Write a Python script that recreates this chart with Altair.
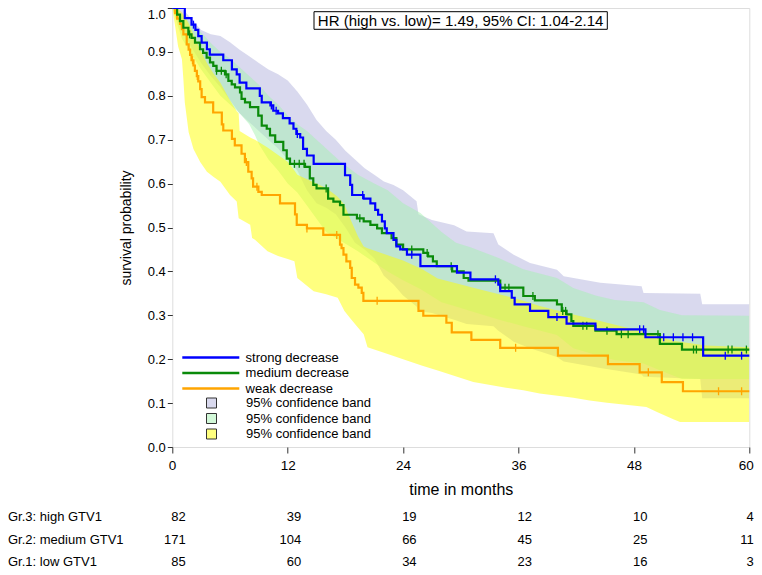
import altair as alt
import pandas as pd

SANS = "Liberation Sans, Arial, sans-serif"

GROUPS = ["strong decrease", "medium decrease", "weak decrease"]
LINE_COLORS = ["#0000ff", "#0a8a0a", "#ffa500"]
BAND_KEYS = ["band_strong", "band_medium", "band_weak"]
BAND_COLORS = ["rgba(179,179,221,0.5)", "rgba(165,241,178,0.5)", "rgba(255,255,0,0.5)"]

# Kaplan-Meier step curves (time in months, survival probability)
STRONG_T = [0, 1.3, 2.0, 2.4, 2.7, 3.05, 3.6, 3.9, 5.3, 6.2, 6.7, 7.0, 7.7, 9.1, 9.3, 10.2, 10.5, 11.0, 11.5, 12.2,
            12.6, 12.9, 13.3, 13.6, 14.0, 14.7, 17.96, 18.5, 18.7, 19.9, 20.6, 21.1, 21.4, 21.8, 22.1, 22.3, 23.0, 23.3,
            23.7, 24.4, 25.8, 29.6, 31.0, 33.9, 34.1, 35.3, 35.6, 37.2, 39.1, 41.0, 44.0, 49.2, 55.2, 60]
STRONG_S = [1.0, 0.977, 0.962, 0.950, 0.936, 0.921, 0.906, 0.894, 0.881, 0.860, 0.849, 0.830, 0.817, 0.800, 0.785,
            0.778, 0.766, 0.760, 0.749, 0.737, 0.725, 0.713, 0.705, 0.679, 0.664, 0.645, 0.619, 0.597, 0.574, 0.566,
            0.555, 0.540, 0.529, 0.514, 0.498, 0.487, 0.472, 0.457, 0.450, 0.438, 0.412, 0.397, 0.382, 0.370, 0.355,
            0.340, 0.325, 0.310, 0.296, 0.281, 0.268, 0.250, 0.208, 0.208]
STRONG_CENSOR = [2.2, 10.3, 10.8, 13.0, 19.8, 24.9, 33.6, 40.0, 48.6, 49.0, 51.1, 52.1, 53.1, 54.1, 57.5, 59.2]

MEDIUM_T = [0, 0.5, 0.8, 1.15, 1.67, 2.0, 2.36, 2.88, 3.2, 3.57, 3.92, 4.26, 4.6, 5.48, 5.83, 6.18, 6.52, 7.04, 7.2,
            7.56, 8.08, 8.94, 9.3, 9.82, 10.16, 10.7, 11.54, 11.9, 12.24, 13.8, 14.3, 14.66, 15.0, 16.2, 16.75, 17.44,
            17.8, 19.2, 19.9, 20.6, 21.3, 21.8, 22.8, 23.3, 24.0, 26.1, 26.6, 27.1, 27.5, 29.1, 30.3, 30.8, 34.1, 36.5,
            37.7, 40.0, 40.5, 41.0, 41.5, 41.7, 44.0, 46.2, 50.7, 53.0, 60]
MEDIUM_S = [1.0, 0.985, 0.970, 0.955, 0.940, 0.932, 0.921, 0.906, 0.898, 0.887, 0.876, 0.868, 0.857, 0.849, 0.834,
            0.826, 0.819, 0.808, 0.793, 0.785, 0.774, 0.755, 0.732, 0.725, 0.710, 0.695, 0.676, 0.657, 0.645, 0.638,
            0.612, 0.597, 0.589, 0.566, 0.559, 0.551, 0.529, 0.521, 0.514, 0.506, 0.498, 0.487, 0.476, 0.461, 0.450,
            0.442, 0.434, 0.423, 0.412, 0.400, 0.385, 0.379, 0.363, 0.344, 0.334, 0.325, 0.310, 0.302, 0.287, 0.276,
            0.265, 0.257, 0.235, 0.222, 0.222]
MEDIUM_CENSOR = [1.8, 4.6, 5.1, 5.6, 12.7, 13.2, 13.7, 16.0, 19.5, 24.9, 26.5, 29.0, 34.6, 35.0, 37.5, 40.6, 40.9,
                 42.7, 43.1, 45.2, 46.7, 47.4, 50.5, 54.2, 54.5, 57.8, 58.2, 59.7]

WEAK_T = [0, 0.3, 0.5, 0.8, 1.0, 1.15, 1.5, 1.7, 1.85, 2.0, 2.2, 2.35, 2.55, 2.7, 2.9, 3.05, 3.4, 4.25, 5.15, 5.3,
          6.2, 6.5, 7.2, 7.55, 7.9, 8.25, 8.4, 8.95, 9.3, 11.2, 12.76, 12.94, 14.0, 15.7, 17.44, 17.6, 17.8, 18.1,
          18.5, 18.66, 19.0, 19.35, 19.7, 19.87, 25.6, 26.1, 28.5, 29.06, 31.1, 34.1, 40.1, 45.3, 48.6, 50.9, 53.1, 60]
WEAK_S = [1.0, 0.988, 0.976, 0.964, 0.952, 0.940, 0.917, 0.905, 0.893, 0.881, 0.869, 0.857, 0.845, 0.833, 0.815,
          0.797, 0.785, 0.762, 0.735, 0.721, 0.702, 0.687, 0.668, 0.649, 0.627, 0.612, 0.593, 0.581, 0.574, 0.555,
          0.530, 0.506, 0.498, 0.483, 0.461, 0.453, 0.438, 0.423, 0.408, 0.385, 0.370, 0.363, 0.351, 0.333, 0.310,
          0.299, 0.283, 0.261, 0.244, 0.226, 0.208, 0.189, 0.170, 0.148, 0.127, 0.127]
WEAK_CENSOR = [0.45, 2.1, 2.6, 7.7, 8.8, 14.0, 17.1, 21.3, 35.7, 49.5, 56.8, 59.2]

# 95% confidence bands
BAND_STRONG_T = [0, 1, 2, 3, 4, 5, 6, 7, 8, 9, 10, 11, 12, 13, 14, 15, 16, 17, 18, 19, 20, 21, 22, 23, 24,
                 25.4, 25.6, 27, 29.3, 30.6, 33.4, 33.9, 35.5, 37.2, 40.0, 40.7, 44.5, 48.8, 49.0, 54.9, 55.1, 60]
BAND_STRONG_HI = [1.0, 1.0, 0.975, 0.95, 0.94, 0.936, 0.922, 0.905, 0.89, 0.875, 0.86, 0.849, 0.835, 0.81, 0.78,
                  0.745, 0.72, 0.70, 0.675, 0.655, 0.635, 0.62, 0.605, 0.597, 0.585, 0.56, 0.53, 0.517, 0.505, 0.491,
                  0.487, 0.461, 0.438, 0.419, 0.404, 0.389, 0.374, 0.366, 0.351, 0.349, 0.325, 0.325]
BAND_STRONG_LO = [1.0, 0.95, 0.91, 0.875, 0.845, 0.82, 0.79, 0.76, 0.74, 0.72, 0.70, 0.68, 0.655, 0.63, 0.585,
                  0.555, 0.545, 0.53, 0.50, 0.465, 0.45, 0.43, 0.39, 0.37, 0.345, 0.32, 0.31, 0.305, 0.29, 0.28,
                  0.275, 0.265, 0.24, 0.225, 0.205, 0.195, 0.18, 0.165, 0.16, 0.155, 0.111, 0.111]

BAND_MEDIUM_T = [0, 1, 2, 3, 4, 5, 6, 7, 8, 8.6, 9, 10, 11, 12, 13, 14, 15, 16, 17.5, 19.3, 21, 22.4, 24, 25.8,
                 28, 29.5, 31, 34, 36.5, 40, 41.7, 44, 46, 49, 50.7, 53, 60]
BAND_MEDIUM_LO = [1, 0.93, 0.895, 0.86, 0.83, 0.80, 0.78, 0.76, 0.735, 0.71, 0.69, 0.655, 0.63, 0.60, 0.58, 0.55,
                  0.52, 0.49, 0.47, 0.446, 0.42, 0.40, 0.38, 0.36, 0.33, 0.32, 0.31, 0.29, 0.275, 0.255, 0.225,
                  0.21, 0.198, 0.19, 0.175, 0.155, 0.155]
BAND_MEDIUM_HI = [1, 0.985, 0.965, 0.945, 0.92, 0.90, 0.885, 0.865, 0.845, 0.833, 0.825, 0.80, 0.78, 0.755, 0.735,
                  0.72, 0.70, 0.68, 0.65, 0.62, 0.60, 0.585, 0.555, 0.533, 0.49, 0.465, 0.455, 0.43, 0.405, 0.385,
                  0.362, 0.345, 0.335, 0.33, 0.312, 0.30, 0.299]

BAND_WEAK_T = [0, 0.3, 0.6, 1.0, 1.15, 1.3, 1.7, 2.2, 2.9, 3.6, 4.3, 5.0, 6.0, 6.7, 6.9, 7.0, 8.1, 8.3, 8.6, 9.9,
               11, 12, 12.7, 13.0, 14.7, 16, 17.2, 17.9, 18.5, 19.3, 19.9, 20.3, 22.4, 24, 26, 27.6, 31.3, 34.7,
               36.5, 38.2, 41.7, 43.4, 45.2, 48.6, 49.3, 50.4, 52.1, 52.8, 55.5, 60]
BAND_WEAK_LO = [1.0, 0.958, 0.913, 0.883, 0.838, 0.785, 0.717, 0.679, 0.649, 0.627, 0.615, 0.604, 0.574, 0.559,
                0.521, 0.520, 0.506, 0.476, 0.472, 0.446, 0.435, 0.428, 0.423, 0.385, 0.355, 0.348, 0.340, 0.310,
                0.293, 0.272, 0.257, 0.227, 0.212, 0.200, 0.185, 0.174, 0.148, 0.135, 0.129, 0.122, 0.112, 0.106,
                0.101, 0.093, 0.091, 0.080, 0.063, 0.057, 0.057, 0.057]
BAND_WEAK_HI = [1.0, 1.0, 0.998, 0.99, 0.985, 0.98, 0.965, 0.94, 0.905, 0.875, 0.85, 0.83, 0.79, 0.765, 0.76, 0.72,
                0.705, 0.703, 0.70, 0.682, 0.665, 0.65, 0.63, 0.62, 0.603, 0.59, 0.57, 0.552, 0.52, 0.48, 0.457,
                0.453, 0.437, 0.425, 0.405, 0.384, 0.363, 0.344, 0.333, 0.321, 0.302, 0.293, 0.283, 0.265, 0.260,
                0.252, 0.242, 0.240, 0.231, 0.227]

# numbers at risk
RISK_TIMES = [0, 12, 24, 36, 48, 60]
RISK_HIGH = [82, 39, 19, 12, 10, 4]
RISK_MEDIUM = [171, 104, 66, 45, 25, 11]
RISK_LOW = [85, 60, 34, 23, 16, 3]
RISK_LABELS = ["Gr.3: high GTV1", "Gr.2: medium GTV1", "Gr.1: low GTV1"]

HR_TEXT = "HR (high vs. low)= 1.49, 95% CI: 1.04-2.14"
Y_TICKS = [0.0, 0.1, 0.2, 0.3, 0.4, 0.5, 0.6, 0.7, 0.8, 0.9, 1.0]
X_TICKS = [0, 12, 24, 36, 48, 60]


def surv_at(ts, ss, t):
    val = ss[0]
    for ti, si in zip(ts, ss):
        if ti <= t:
            val = si
    return val


curves = {
    "strong decrease": (STRONG_T, STRONG_S, STRONG_CENSOR),
    "medium decrease": (MEDIUM_T, MEDIUM_S, MEDIUM_CENSOR),
    "weak decrease": (WEAK_T, WEAK_S, WEAK_CENSOR),
}

lines_df = pd.concat(
    [pd.DataFrame({"group": g, "t": curves[g][0], "s": curves[g][1]})
     for g in ["weak decrease", "medium decrease", "strong decrease"]],
    ignore_index=True,
)

bands_df = pd.concat(
    [
        pd.DataFrame({"band": "band_strong", "t": BAND_STRONG_T, "lo": BAND_STRONG_LO, "hi": BAND_STRONG_HI}),
        pd.DataFrame({"band": "band_medium", "t": BAND_MEDIUM_T, "lo": BAND_MEDIUM_LO, "hi": BAND_MEDIUM_HI}),
        pd.DataFrame({"band": "band_weak", "t": BAND_WEAK_T, "lo": BAND_WEAK_LO, "hi": BAND_WEAK_HI}),
    ],
    ignore_index=True,
)

x_scale = alt.Scale(domain=[0, 60], nice=False, zero=False)
y_scale = alt.Scale(domain=[0, 1], nice=False)

x_axis = alt.Axis(values=X_TICKS, title="time in months", titleFont=SANS, titleFontSize=16,
                  titleFontWeight="normal", titleColor="black", titlePadding=10,
                  labelFont=SANS, labelFontSize=13.5, labelColor="black", labelPadding=5,
                  labelFlush=True, labelFlushOffset=4, tickSize=6, tickColor="#333", domain=False, grid=False)
y_axis = alt.Axis(values=Y_TICKS, format=".1f", title="survival probability", titleFont=SANS, titleFontSize=14,
                  titleFontWeight="normal", titleColor="black", titlePadding=14,
                  labelFont=SANS, labelFontSize=13, labelColor="black", labelPadding=2,
                  labelBaseline={"condition": {"test": "datum.value == 1", "value": "top"}, "value": "middle"},
                  tickSize=5, tickColor="#333", domain=False, grid=False)

bands = alt.Chart(bands_df).mark_area(interpolate="linear", opacity=1, clip=True).encode(
    x=alt.X("t:Q", scale=x_scale, axis=x_axis),
    y=alt.Y("lo:Q", scale=y_scale, axis=y_axis, stack=None),
    y2="hi:Q",
    fill=alt.Fill("band:N", scale=alt.Scale(domain=BAND_KEYS, range=BAND_COLORS),
                  legend=alt.Legend(title=None, orient="none", legendX=32.7, legendY=388.5, symbolType="square",
                                    symbolSize=100, symbolStrokeColor="#333", symbolStrokeWidth=1,
                                    symbolOpacity=1, labelExpr="'95% confidence band'", labelFont=SANS,
                                    labelFontSize=13, labelColor="black", labelOffset=28, rowPadding=0.5,
                                    padding=0, labelLimit=0)),
)

lines = alt.Chart(lines_df).mark_line(interpolate="step-after", strokeWidth=2.2).encode(
    x=alt.X("t:Q", scale=x_scale),
    y=alt.Y("s:Q", scale=y_scale),
    color=alt.Color("group:N", scale=alt.Scale(domain=GROUPS, range=LINE_COLORS),
                    legend=alt.Legend(title=None, orient="none", legendX=31.5, legendY=342.5,
                                      symbolType="M-5,0H5", symbolSize=130, symbolStrokeWidth=2.5,
                                      labelFont=SANS, labelFontSize=13, labelColor="black", labelOffset=27.8,
                                      rowPadding=1.5, padding=0, labelLimit=0)),
    detail="group:N",
)

censor_layers = []
for g, col in zip(GROUPS, LINE_COLORS):
    ts, ss, cs = curves[g]
    cdf = pd.DataFrame({"t": cs, "s": [surv_at(ts, ss, c) for c in cs]})
    censor_layers.append(
        alt.Chart(cdf).mark_tick(orient="vertical", size=8, thickness=1.3, opacity=1, color=col).encode(
            x=alt.X("t:Q", scale=x_scale), y=alt.Y("s:Q", scale=y_scale)
        )
    )
censor_layers = censor_layers[::-1]

hr_df = pd.DataFrame({"label": [HR_TEXT]})
hr_box = alt.Chart(hr_df).mark_rect(fill="white", stroke="black", strokeWidth=1).encode(
    x=alt.value(141.7), x2=alt.value(435.0), y=alt.value(3.7), y2=alt.value(21.3)
)
hr_text = alt.Chart(hr_df).mark_text(font=SANS, fontSize=15, color="black", align="center", baseline="middle").encode(
    x=alt.value(288.3), y=alt.value(12.8), text="label:N"
)

risk_layers = []
row_y = [509.0, 531.5, 553.5]
for label, counts, yy in zip(RISK_LABELS, [RISK_HIGH, RISK_MEDIUM, RISK_LOW], row_y):
    rdf = pd.DataFrame({"t": RISK_TIMES[:-1], "n": counts[:-1]})
    risk_layers.append(
        alt.Chart(rdf).mark_text(font=SANS, fontSize=13, color="black", align="right", baseline="middle",
                                 dx=13.5).encode(
            x=alt.X("t:Q", scale=x_scale), y=alt.value(yy), text="n:Q"
        )
    )
    edf = pd.DataFrame({"t": RISK_TIMES[-1:], "n": counts[-1:]})
    risk_layers.append(
        alt.Chart(edf).mark_text(font=SANS, fontSize=13, color="black", align="right", baseline="middle",
                                 dx=4.5).encode(
            x=alt.X("t:Q", scale=x_scale), y=alt.value(yy), text="n:Q"
        )
    )
    ldf = pd.DataFrame({"label": [label]})
    risk_layers.append(
        alt.Chart(ldf).mark_text(font=SANS, fontSize=13, color="black", align="left", baseline="middle").encode(
            x=alt.value(-164.3), y=alt.value(yy), text="label:N"
        )
    )

chart = alt.layer(bands, *censor_layers, lines, hr_box, hr_text, *risk_layers).properties(
    width=577, height=439,
    autosize=alt.AutoSizeParams(type="none"),
    padding={"left": 164.3, "top": 0, "right": 4.7, "bottom": 120},
).configure_view(stroke="#333", strokeWidth=1.5).configure(background="white")

chart.save("out.html", embed_options={"renderer": "svg", "actions": False})
